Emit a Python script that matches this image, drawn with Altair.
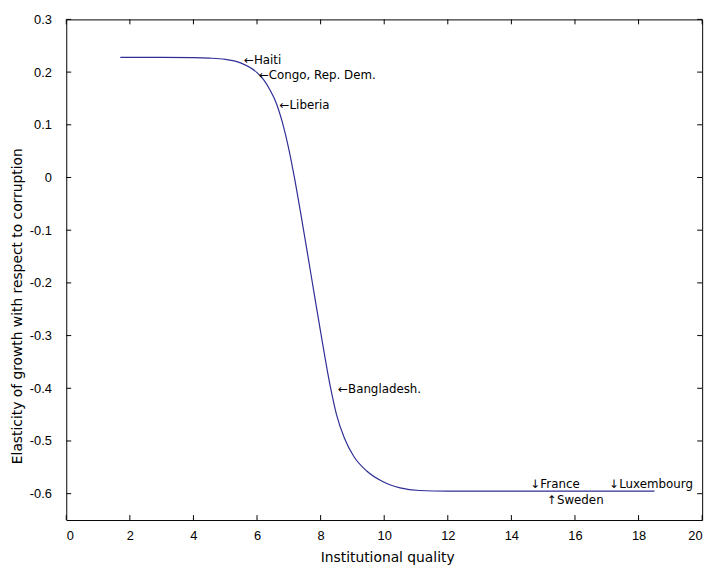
import altair as alt
import pandas as pd

# Curve
curve_x = [1.7, 3.0, 4.0, 4.5, 5.0, 5.5, 6.0, 6.2, 6.4, 6.6, 6.8, 7.0, 7.2, 7.4, 7.7, 8.0, 8.3, 8.5, 8.75, 9.05,
           9.45, 9.95, 10.5, 11.1, 12.0, 18.5]
curve_y = [0.228, 0.228, 0.2275, 0.2265, 0.224, 0.217, 0.199, 0.186, 0.167, 0.142, 0.104, 0.054, -0.008, -0.077,
           -0.185, -0.293, -0.395, -0.45, -0.495, -0.53, -0.557, -0.577, -0.589, -0.594, -0.595, -0.595]

# Annotations
ann_text = ["\u2190Haiti", "\u2190Congo, Rep. Dem.", "\u2190Liberia", "\u2190Bangladesh.",
            "\u2193France", "\u2193Luxembourg", "\u2191Sweden"]
ann_x = [5.59, 6.06, 6.71, 8.55, 14.6, 17.08, 15.12]
ann_y = [0.2225, 0.1944, 0.1382, -0.4014, -0.5812, -0.5812, -0.6112]

x_ticks = [0, 2, 4, 6, 8, 10, 12, 14, 16, 18, 20]
y_ticks = [-0.6, -0.5, -0.4, -0.3, -0.2, -0.1, 0, 0.1, 0.2, 0.3]

W, H = 644, 507
LINE_COLOR = "#2e2e96"
TICK_FONT = "Liberation Sans Narrow, Liberation Sans, Arial"
TITLE_FONT = "DejaVu Sans"

curve_df = pd.DataFrame({"x": curve_x, "y": curve_y})
ann_df = pd.DataFrame({"label": ann_text, "x": ann_x, "y": ann_y})
xt_df = pd.DataFrame({"x": x_ticks})
yt_df = pd.DataFrame({"y": y_ticks})

xscale = alt.Scale(domain=[0, 20], nice=False, zero=False)
yscale = alt.Scale(domain=[-0.65, 0.3], nice=False, zero=False)

xaxis = alt.Axis(title="Institutional quality", values=x_ticks, tickSize=0, domain=False, grid=False,
                 labelFont=TICK_FONT, labelFontSize=13, labelColor="black", labelPadding=10,
                 titleFont=TITLE_FONT, titleFontSize=14, titleFontWeight="normal", titleColor="black",
                 titleX=W / 2 + 3, titleY=38, titleBaseline="middle")
yaxis = alt.Axis(title="Elasticity of growth with respect to corruption", values=y_ticks, tickSize=0,
                 domain=False, grid=False, labelExpr="toString(datum.value)",
                 labelFont=TICK_FONT, labelFontSize=13, labelColor="black", labelPadding=15,
                 titleFont=TITLE_FONT, titleFontSize=14, titleFontWeight="normal", titleColor="black",
                 titleX=-49, titleY=290, titleAngle=270, titleBaseline="middle", titleAlign="center")

X = alt.X("x:Q", scale=xscale, axis=xaxis)
Y = alt.Y("y:Q", scale=yscale, axis=yaxis)

line = alt.Chart(curve_df).mark_line(color=LINE_COLOR, strokeWidth=1.2, interpolate="monotone").encode(x=X, y=Y)

text = alt.Chart(ann_df).mark_text(align="left", baseline="middle", font=TITLE_FONT, fontSize=12,
                                   color="black").encode(x=X, y=Y, text="label:N")

tick_len = 5
xb = alt.Chart(xt_df).mark_rule(color="black").encode(x=X, y=alt.value(H), y2=alt.value(H - tick_len))
xt = alt.Chart(xt_df).mark_rule(color="black").encode(x=X, y=alt.value(0), y2=alt.value(tick_len))
yl = alt.Chart(yt_df).mark_rule(color="black").encode(y=Y, x=alt.value(0), x2=alt.value(tick_len))
yr = alt.Chart(yt_df).mark_rule(color="black").encode(y=Y, x=alt.value(W), x2=alt.value(W - tick_len))

chart = alt.layer(line, xb, xt, yl, yr, text).properties(
    width=W, height=H,
    autosize=alt.AutoSizeParams(type="none"),
    padding={"left": 59, "top": 8, "right": 12, "bottom": 42},
    background="white",
).configure_view(stroke="black", strokeWidth=1)

chart.save("out.html", embed_options={"renderer": "svg", "actions": False})
